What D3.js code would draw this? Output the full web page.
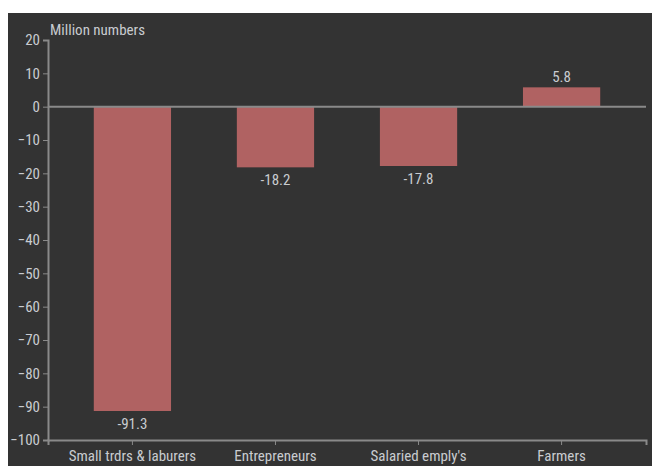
<!DOCTYPE html>
<html>
<head>
<meta charset="utf-8">
<script src="https://cdn.jsdelivr.net/npm/d3@7"></script>
<style>
  body { margin: 0; background: #fff; }
  #chart { position: absolute; left: 8px; top: 13px; }
  text { font-family: "Liberation Sans Narrow", "Roboto Condensed", Roboto, sans-serif; }
</style>
</head>
<body>
<div id="chart"></div>
<script>
const categories = ["Small trdrs & laburers", "Entrepreneurs", "Salaried emply's", "Farmers"];
const values = [-91.3, -18.2, -17.8, 5.8];
const yTicks = [20, 10, 0, -10, -20, -30, -40, -50, -60, -70, -80, -90, -100];

const W = 644, H = 453;
const margin = {top: 27, right: 6, bottom: 26, left: 40};
const width = W - margin.left - margin.right, height = H - margin.top - margin.bottom;
const textColor = "#c9ccd0", axisColor = "#8a8a8a";
const fontStack = "\"Liberation Sans Narrow\", \"Roboto Condensed\", Roboto, sans-serif";

const svg = d3.select("#chart").append("svg")
    .attr("width", W).attr("height", H)
    .style("background", "#333333");

const g = svg.append("g").attr("transform", `translate(${margin.left},${margin.top})`);

const x = d3.scaleBand().domain(categories).range([0, width])
    .paddingInner(0.46).paddingOuter(0.32);
const y = d3.scaleLinear().domain([-100, 20]).range([height, 0]);

// bars
g.selectAll("rect.bar").data(values).join("rect")
    .attr("class", "bar")
    .attr("x", (d, i) => x(categories[i]))
    .attr("width", x.bandwidth())
    .attr("y", d => y(Math.max(0, d)))
    .attr("height", d => Math.abs(y(d) - y(0)))
    .attr("fill", "#b06262");

// zero line
g.append("line")
    .attr("x1", 0).attr("x2", width)
    .attr("y1", y(0)).attr("y2", y(0))
    .attr("stroke", axisColor).attr("stroke-width", 2);

// value labels
g.selectAll("text.val").data(values).join("text")
    .attr("class", "val")
    .attr("x", (d, i) => x(categories[i]) + x.bandwidth() / 2)
    .attr("y", d => d >= 0 ? y(d) - 5 : y(d) + 18)
    .attr("text-anchor", "middle")
    .attr("fill", textColor)
    .attr("font-size", 15)
    .text(d => d);

// y axis
const yAxis = g.append("g")
    .call(d3.axisLeft(y).tickValues(yTicks).tickSize(5).tickPadding(3));
yAxis.select(".domain").attr("stroke", axisColor).attr("stroke-width", 2);
yAxis.selectAll(".tick line").attr("stroke", axisColor);
yAxis.selectAll(".tick text").attr("fill", textColor).attr("font-size", 15)
    .style("font-family", fontStack);

// x axis
const xAxis = g.append("g").attr("transform", `translate(0,${height})`)
    .call(d3.axisBottom(x).tickSizeOuter(0).tickSize(5).tickPadding(5));
xAxis.select(".domain").attr("stroke", axisColor).attr("stroke-width", 2);
xAxis.selectAll(".tick line").attr("stroke", axisColor);
xAxis.selectAll(".tick text").attr("fill", textColor).attr("font-size", 15)
    .style("font-family", fontStack);

// y label
g.append("text")
    .attr("x", 2).attr("y", -5)
    .attr("fill", textColor)
    .attr("font-size", 15)
    .text("Million numbers");
</script>
</body>
</html>
